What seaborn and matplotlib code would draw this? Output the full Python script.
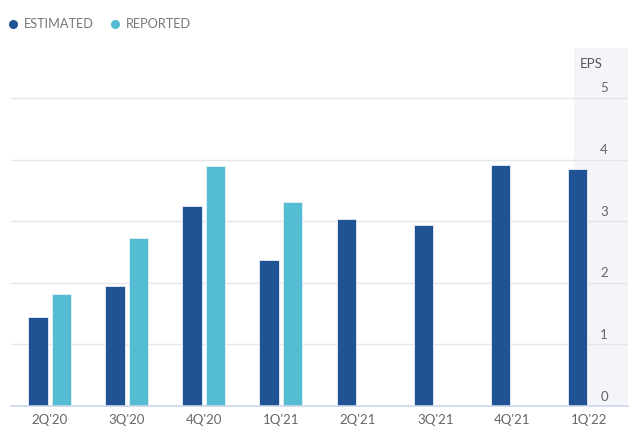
import numpy as np
import pandas as pd
import matplotlib
matplotlib.use("Agg")
import matplotlib.pyplot as plt
import matplotlib.transforms as mtransforms
from matplotlib.lines import Line2D
import seaborn as sns

quarters = ["2Q'20", "3Q'20", "4Q'20", "1Q'21", "2Q'21", "3Q'21", "4Q'21", "1Q'22"]
estimated = [1.44, 1.95, 3.24, 2.37, 3.04, 2.93, 3.91, 3.85]
reported = [1.81, 2.72, 3.90, 3.31, np.nan, np.nan, np.nan, np.nan]
y_ticks = [0, 1, 2, 3, 4, 5]

EST_COLOR = "#1f5394"
REP_COLOR = "#55bdd3"
TEXT_COLOR = "#666666"

df = pd.DataFrame({
    "quarter": quarters * 2,
    "eps": estimated + reported,
    "type": ["ESTIMATED"] * len(quarters) + ["REPORTED"] * len(quarters),
})

sns.set_style("white")
plt.rcParams["font.family"] = ["Lato", "DejaVu Sans"]

fig = plt.figure(figsize=(6.4, 4.44), dpi=100)
ax = fig.add_axes([11 / 640, 38 / 444, 617 / 640, 358 / 444])

ax.axvspan(6.8, 7.5, color="#f4f4f9", zorder=0, lw=0)

sns.barplot(data=df, x="quarter", y="eps", hue="type",
            hue_order=["ESTIMATED", "REPORTED"],
            palette=[EST_COLOR, REP_COLOR], saturation=1,
            width=0.61, gap=0.17, order=quarters, legend=False,
            ax=ax, zorder=2, linewidth=0.6, edgecolor="#e8eef6")

ax.set_xlim(-0.5, 7.5)
ax.set_ylim(0, 5.81)
ax.set_yticks(y_ticks)
ax.set_xlabel("")
ax.set_ylabel("")
ax.set_axisbelow(True)
ax.yaxis.grid(True, color="#e6e6e6", lw=1)
ax.xaxis.grid(False)

for s in ["top", "left", "right"]:
    ax.spines[s].set_visible(False)
ax.spines["bottom"].set_color("#ccd6eb")
ax.spines["bottom"].set_linewidth(1.2)

ax.tick_params(axis="x", length=0, pad=6, labelsize=9.5, colors=TEXT_COLOR)
ax.tick_params(axis="y", left=False, labelleft=False, right=False,
               labelright=True, length=0, pad=-20, labelsize=9.5,
               colors=TEXT_COLOR)
offset = mtransforms.ScaledTranslation(0, 2.5 / 72, fig.dpi_scale_trans)
for lab in ax.get_yticklabels():
    lab.set_va("bottom")
    lab.set_transform(lab.get_transform() + offset)

ax.text(0.940, 0.955, "EPS", transform=ax.transAxes, ha="center",
        va="center", fontsize=9.5, color="#555555")

handles = [
    Line2D([], [], marker="o", ls="", color=EST_COLOR, markersize=5.5),
    Line2D([], [], marker="o", ls="", color=REP_COLOR, markersize=5.5),
]
fig.legend(handles, ["ESTIMATED", "REPORTED"], loc="upper left",
           bbox_to_anchor=(-0.006, 0.985), ncol=2, frameon=False,
           handletextpad=0.45, columnspacing=1.3, handlelength=0.8,
           fontsize=9.2, labelcolor="#777777")

fig.savefig("out.png", dpi=100)
